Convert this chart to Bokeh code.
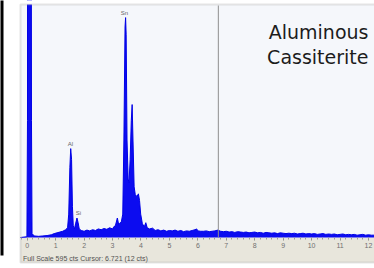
from bokeh.plotting import figure
from bokeh.models import ColumnDataSource, FixedTicker, BoxAnnotation, Label
from bokeh.core.properties import value
from bokeh.embed import file_html
from bokeh.resources import INLINE

# ---- data ----
energy_keV = [-0.24, -0.01, 0.01, 0.02, 0.13, 0.15, 0.17, 0.25, 0.40, 0.55, 0.70, 0.85, 0.95,
              1.05, 1.15, 1.25, 1.35, 1.42, 1.46, 1.50, 1.53, 1.56, 1.59, 1.62, 1.66, 1.70,
              1.75, 1.79, 1.83, 1.90, 2.00, 2.10, 2.20, 2.30, 2.40, 2.50, 2.60, 2.70, 2.80,
              2.90, 3.00, 3.05, 3.10, 3.17, 3.22, 3.27, 3.31, 3.36, 3.40, 3.44, 3.46, 3.48,
              3.51, 3.55, 3.58, 3.62, 3.66, 3.69, 3.72, 3.76, 3.80, 3.86, 3.91, 3.95, 3.99,
              4.05, 4.12, 4.17, 4.22, 4.30, 4.41, 4.50, 4.60, 4.70, 4.80, 4.90, 5.00, 5.10,
              5.20, 5.30, 5.40, 5.50, 5.60, 5.70, 5.80, 5.90, 5.96, 6.00, 6.10, 6.20, 6.30,
              6.40, 6.50, 6.60, 6.70, 6.80, 6.90, 7.00, 7.10, 7.20, 7.30, 7.40, 7.50, 7.60,
              7.70, 7.80, 7.90, 8.00, 8.10, 8.20, 8.30, 8.40, 8.50, 8.60, 8.70, 8.80, 8.90,
              9.00, 9.10, 9.20, 9.30, 9.40, 9.50, 9.60, 9.70, 9.80, 9.90, 10.00, 10.10, 10.20,
              10.30, 10.40, 10.50, 10.60, 10.70, 10.80, 10.90, 11.00, 11.10, 11.20, 11.30,
              11.40, 11.50, 11.60, 11.70, 11.80, 11.90, 12.00, 12.10, 12.21]
counts = [0, 2, 300, 2000, 2000, 300, 10, 4, 3, 4, 5, 7, 10,
          12, 14, 16, 20, 25, 60, 180, 228, 200, 80, 30, 22, 35,
          50, 38, 22, 18, 16, 19, 17, 20, 18, 22, 20, 23, 21,
          25, 22, 28, 30, 50, 32, 38, 40, 60, 250, 540, 564, 520,
          250, 150, 140, 200, 300, 341, 250, 130, 110, 105, 112, 95, 60,
          35, 28, 38, 25, 22, 24, 18, 20, 17, 19, 16, 18, 17,
          19, 16, 18, 15, 17, 16, 18, 20, 22, 17, 16, 16, 17,
          15, 16, 17, 19, 16, 15, 16, 14, 15, 13, 15, 14, 13,
          14, 12, 13, 14, 12, 13, 11, 13, 12, 11, 12, 10, 12,
          11, 10, 11, 10, 11, 9, 10, 11, 9, 10, 9, 10, 8,
          9, 10, 8, 9, 8, 9, 7, 8, 9, 7, 8,
          7, 8, 6, 7, 8, 6, 7, 6, 6]

peak_names = ["Al", "Si", "Sn"]
peak_label_E = [1.52, 1.80, 3.42]
peak_label_cts = [241, 62, 577]

x_ticks = [0, 1, 2, 3, 4, 5, 6, 7, 8, 9, 10, 11, 12]
full_scale_cts = 595
cursor_keV = 6.721
status_text = "Full Scale 595 cts Cursor: 6.721  (12 cts)"
sample_lines = ["Aluminous", "Cassiterite"]
sample_E = [12.0, 12.0]
sample_cts = [526, 462]

# ---- figure: the frame covers the whole canvas, the window chrome is drawn in screen units ----
H = 268
p = figure(width=374, height=H, output_backend="svg", toolbar_location=None,
           x_range=(-0.939, 12.212), y_range=(-79.5, 607.9),
           min_border_left=0, min_border_right=0, min_border_top=0, min_border_bottom=0,
           y_axis_location=None)
p.background_fill_color = "#ffffff"
p.border_fill_color = "#ffffff"
p.outline_line_color = None
p.xgrid.visible = False
p.ygrid.visible = False


def screen_box(left, right, top_px, bottom_px, **kw):
    # top_px / bottom_px are measured from the top of the canvas; screen y runs bottom-up
    return BoxAnnotation(left=left, right=right, top=H - top_px, bottom=H - bottom_px,
                         left_units="screen", right_units="screen",
                         top_units="screen", bottom_units="screen", **kw)


# spectrum panel and status band
p.add_layout(screen_box(20, 375, 4, 237, fill_color="#f5f7fb", fill_alpha=1.0,
                        line_color=None, level="underlay"))
p.add_layout(screen_box(20, 375, 237, 262, fill_color="#e8e6dc", fill_alpha=1.0,
                        line_color=None, level="underlay"))

p.varea(x=energy_keV, y1=0, y2=counts, fill_color="#0c0cf0")
p.line(x=energy_keV, y=counts, line_color="#0000e6", line_width=1)

# cursor
p.segment(x0=[cursor_keV], y0=[0], x1=[cursor_keV], y1=[full_scale_cts],
          line_color="#8f8f8f", line_width=1)

# white above the panel (hides the off-scale zero peak) and the panel border
p.add_layout(screen_box(3, 375, -1, 4, fill_color="#ffffff", fill_alpha=1.0,
                        line_color=None, level="overlay"))
p.add_layout(screen_box(20, 375, 4, 262, fill_color=None, fill_alpha=0,
                        line_color="#a9a9a9", line_width=2, level="overlay"))
# dark window edge at far left
p.add_layout(screen_box(-1, 3, -1, 255, fill_color="#000000", fill_alpha=1.0,
                        line_color=None, level="overlay"))

lbl = ColumnDataSource(dict(x=peak_label_E, y=peak_label_cts, t=peak_names))
p.text(x="x", y="y", text="t", source=lbl, text_font=value("Liberation Sans"),
       text_font_size="6px", text_color="#666666", text_align="center", text_baseline="middle")

smp = ColumnDataSource(dict(x=sample_E, y=sample_cts, t=sample_lines))
p.text(x="x", y="y", text="t", source=smp, text_font=value("DejaVu Sans"),
       text_font_size="19px", text_color="#1c1c1c", text_align="right", text_baseline="alphabetic")

ax = p.xaxis[0]
ax.fixed_location = 0
ax.ticker = FixedTicker(ticks=x_ticks, minor_ticks=[i * 0.2 for i in range(-1, 62)])
ax.axis_line_color = None
ax.major_tick_line_color = "#8a8a8a"
ax.minor_tick_line_color = "#9a9a9a"
ax.major_tick_in = 0
ax.major_tick_out = 3
ax.minor_tick_in = 0
ax.minor_tick_out = 2
ax.major_label_text_font = "Liberation Sans"
ax.major_label_text_font_size = "7px"
ax.major_label_text_color = "#707070"
ax.major_label_standoff = 2

p.add_layout(Label(x=-0.15, y=-54, text=status_text, text_font="Liberation Sans",
                   text_font_size="7px", text_color="#505050", text_baseline="middle"))

open("out.html", "w").write(file_html(p, INLINE))
